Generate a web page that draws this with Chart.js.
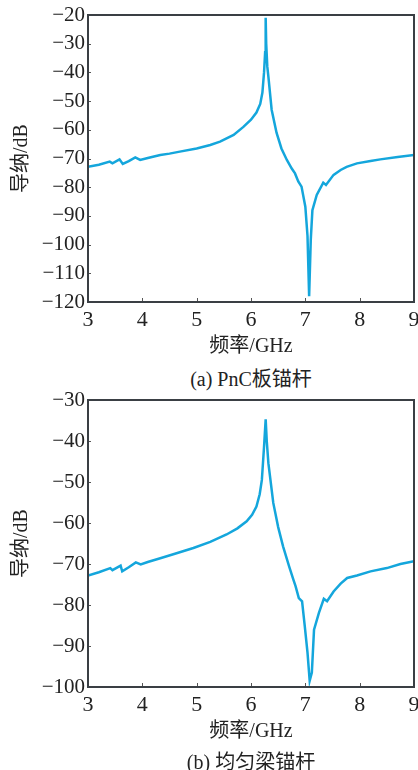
<!DOCTYPE html>
<html>
<head>
<meta charset="utf-8">
<script src="https://cdn.jsdelivr.net/npm/chart.js@4/dist/chart.umd.min.js"></script>
<style>
  body { margin: 0; background: #fff; width: 418px; height: 770px; position: relative; overflow: hidden; }
  .box { position: absolute; left: 0; width: 418px; height: 362px; }
  .cap { position: absolute; left: 88px; width: 326px; text-align: center; line-height: 24px;
         font: 20px 'Liberation Serif', 'Noto Sans CJK SC'; color: #222; }
</style>
</head>
<body>
<div class="box" style="top:0"><canvas id="chartA" width="418" height="362"></canvas></div>
<div class="cap" style="top:363px">(a) PnC板锚杆</div>
<div class="box" style="top:385px"><canvas id="chartB" width="418" height="362"></canvas></div>
<div class="cap" style="top:746px">(b) 均匀梁锚杆</div>
<script>
// (a) PnC plate anchor
const freqA = [3.0, 3.2, 3.4, 3.45, 3.58, 3.64, 3.75, 3.87, 3.96, 4.1, 4.33, 4.5, 4.69, 5.0, 5.25, 5.43, 5.68, 5.86, 6.0, 6.1, 6.17, 6.21, 6.24, 6.26, 6.27, 6.28, 6.3, 6.32, 6.38, 6.47, 6.56, 6.66, 6.75, 6.81, 6.87, 6.93, 7.0, 7.04, 7.07, 7.1, 7.13, 7.21, 7.33, 7.38, 7.52, 7.65, 7.76, 7.95, 8.2, 8.38, 8.7, 9.0];
const admA = [-72.9, -72.2, -71.1, -71.7, -70.3, -71.9, -70.9, -69.6, -70.5, -69.8, -68.8, -68.3, -67.6, -66.5, -65.3, -64.1, -61.8, -59.0, -56.5, -54, -51, -47, -40, -33, -21, -30, -38, -41.5, -53, -61, -66.5, -70.5, -73.5, -75.2, -78, -79.8, -86.8, -97, -118, -98.4, -88, -82.7, -78.4, -79.2, -75.7, -74, -72.9, -71.7, -70.9, -70.3, -69.5, -68.8];

// (b) uniform beam anchor
const freqB = [3.0, 3.2, 3.41, 3.45, 3.6, 3.63, 3.75, 3.88, 3.97, 4.1, 4.33, 4.6, 4.94, 5.25, 5.55, 5.75, 5.92, 6.02, 6.1, 6.16, 6.2, 6.24, 6.27, 6.29, 6.32, 6.41, 6.5, 6.59, 6.7, 6.78, 6.82, 6.88, 6.94, 6.99, 7.04, 7.08, 7.12, 7.16, 7.25, 7.34, 7.4, 7.52, 7.65, 7.77, 7.95, 8.2, 8.5, 8.75, 9.0];
const admB = [-72.8, -72.0, -71.0, -71.5, -70.4, -71.8, -70.8, -69.6, -70.1, -69.5, -68.6, -67.5, -66.1, -64.6, -62.8, -61.3, -59.6, -58, -56, -53, -49.5, -41.4, -34.7, -40, -45.4, -55.1, -61, -65.7, -70.5, -73.8, -75.4, -78.3, -79.1, -85.2, -91.6, -98.5, -96.5, -86, -81.9, -78.5, -79.1, -76.7, -74.8, -73.4, -72.8, -71.8, -71.0, -70.0, -69.3];

const xTicks = [3, 4, 5, 6, 7, 8, 9];

const serif = "'Liberation Serif', 'Noto Sans CJK SC'";

// box frame and inward tick marks, matlab style
const framePlugin = {
    id: 'frame',
    afterDraw(chart) {
        const { ctx, chartArea: a, scales } = chart;
        ctx.save();
        ctx.strokeStyle = '#555';
        ctx.lineWidth = 1;
        scales.x.ticks.forEach(t => {
            const px = Math.round(scales.x.getPixelForValue(t.value)) + 0.5;
            ctx.beginPath(); ctx.moveTo(px, a.bottom); ctx.lineTo(px, a.bottom - 4); ctx.stroke();
        });
        scales.y.ticks.forEach(t => {
            const py = Math.round(scales.y.getPixelForValue(t.value)) + 0.5;
            ctx.beginPath(); ctx.moveTo(a.left, py); ctx.lineTo(a.left + 3, py); ctx.stroke();
        });
        ctx.strokeStyle = '#3a3f44';
        ctx.lineWidth = 2;
        ctx.strokeRect(a.left, a.top, a.right - a.left, a.bottom - a.top);
        ctx.restore();
    }
};

function makeChart(id, freq, adm, yMin, yMax) {
    const ctx = document.getElementById(id).getContext('2d');
    return new Chart(ctx, {
        type: 'line',
        data: {
            datasets: [{
                data: freq.map((f, i) => ({ x: f, y: adm[i] })),
                borderColor: '#14a6dc',
                borderWidth: 2.5,
                pointRadius: 0,
                tension: 0,
                fill: false
            }]
        },
        options: {
            responsive: false,
            animation: false,
            layout: { padding: { top: 15, right: 4, left: 6, bottom: 0 } },
            plugins: { legend: { display: false }, tooltip: { enabled: false } },
            scales: {
                x: {
                    type: 'linear', min: 3, max: 9,
                    afterBuildTicks: s => { s.ticks = xTicks.map(v => ({ value: v })); },
                    grid: { display: false, drawTicks: false },
                    border: { display: false },
                    ticks: { font: { family: serif, size: 22 }, color: '#222', padding: 5, maxRotation: 0 },
                    title: { display: true, text: '频率/GHz', font: { family: serif, size: 20 }, color: '#222', padding: { top: 0, bottom: 3 } },
                    afterFit: s => { s.height = 60; s.paddingLeft = 0; s.paddingRight = 0; }
                },
                y: {
                    min: yMin, max: yMax,
                    grid: { display: false, drawTicks: false },
                    border: { display: false },
                    ticks: {
                        stepSize: 10,
                        font: { family: serif, size: 21 }, color: '#222', padding: 3,
                        callback: v => String(v).replace('-', '\u2212')
                    },
                    title: { display: true, text: '导纳/dB', font: { family: serif, size: 20 }, color: '#222', padding: { top: 4, bottom: 0 } },
                    afterFit: s => { s.width = 82; s.paddingTop = 0; s.paddingBottom = 0; }
                }
            }
        },
        plugins: [framePlugin]
    });
}

makeChart('chartA', freqA, admA, -120, -20);
makeChart('chartB', freqB, admB, -100, -30);
</script>
</body>
</html>
